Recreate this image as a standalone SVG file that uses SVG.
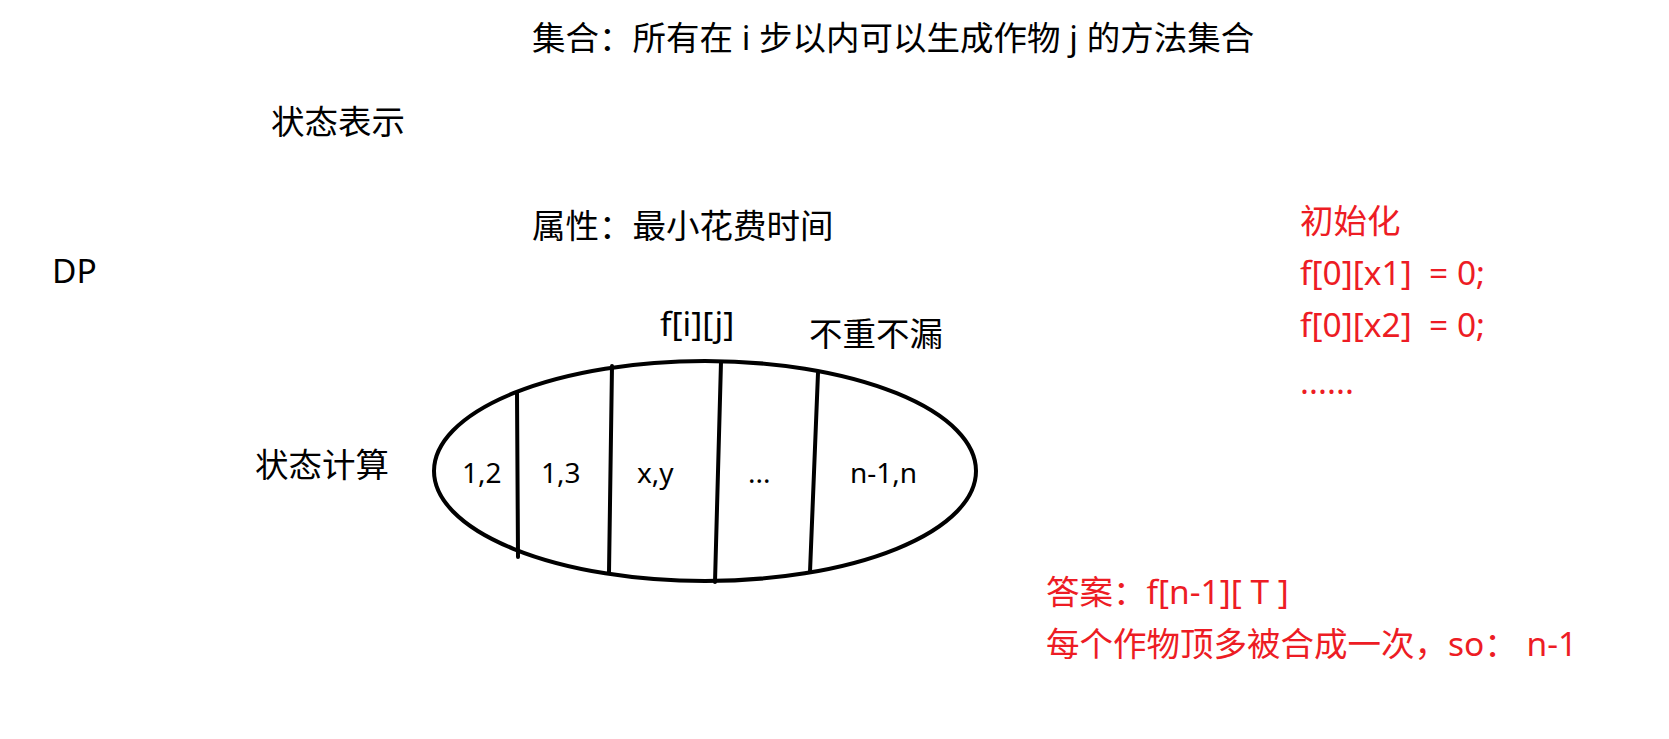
<svg xmlns="http://www.w3.org/2000/svg" width="1669" height="739" viewBox="0 0 1669 739">
<style>
text{font-family:"Noto Sans","Noto Sans CJK SC",sans-serif;fill:#000;}
.t{font-size:33.5px;}
.s{font-size:28px;}
.r{font-size:33.5px;fill:#ED1C24;}
.ln{stroke:#000;stroke-width:4;fill:none;stroke-linecap:round;}
</style>
<rect width="1669" height="739" fill="#fff"/>
<g id="title"><text class="t" x="532" y="50">集合：所有在 i 步以内可以生成作物 j 的方法集合</text></g>
<g id="state-repr"><text class="t" x="271" y="134">状态表示</text></g>
<g id="attr"><text class="t" x="532" y="238">属性：最小花费时间</text></g>
<g id="dp"><text class="t" x="52" y="283">DP</text></g>
<g id="state-calc"><text class="t" x="255" y="477">状态计算</text></g>
<g id="fij"><text class="t" x="660" y="336">f[i][j]</text></g>
<g id="nodup"><text class="t" x="809" y="346">不重不漏</text></g>
<g id="set">
<ellipse class="ln" cx="705" cy="471" rx="271" ry="110"/>
<text class="s" x="462" y="483">1,2</text>
<text class="s" x="541" y="483">1,3</text>
<text class="s" x="637" y="483">x,y</text>
<text class="s" x="748" y="483">...</text>
<text class="s" x="850" y="483">n-1,n</text>
</g>
<g id="connectors">
<line class="ln" x1="517" y1="393" x2="518" y2="557"/>
<line class="ln" x1="612" y1="366" x2="609" y2="573"/>
<line class="ln" x1="721" y1="362" x2="715" y2="582"/>
<line class="ln" x1="818" y1="373" x2="810" y2="572"/>
</g>
<g id="init">
<text class="r" x="1300" y="233">初始化</text>
<text class="r" x="1300" y="285" xml:space="preserve">f[0][x1]  = 0;</text>
<text class="r" x="1300" y="337" xml:space="preserve">f[0][x2]  = 0;</text>
<text class="r" x="1300" y="394">......</text>
</g>
<g id="answer">
<text class="r" x="1046" y="604">答案：f[n-1][ T ]</text>
<text class="r" x="1046" y="656">每个作物顶多被合成一次，so： n-1</text>
</g>
</svg>
